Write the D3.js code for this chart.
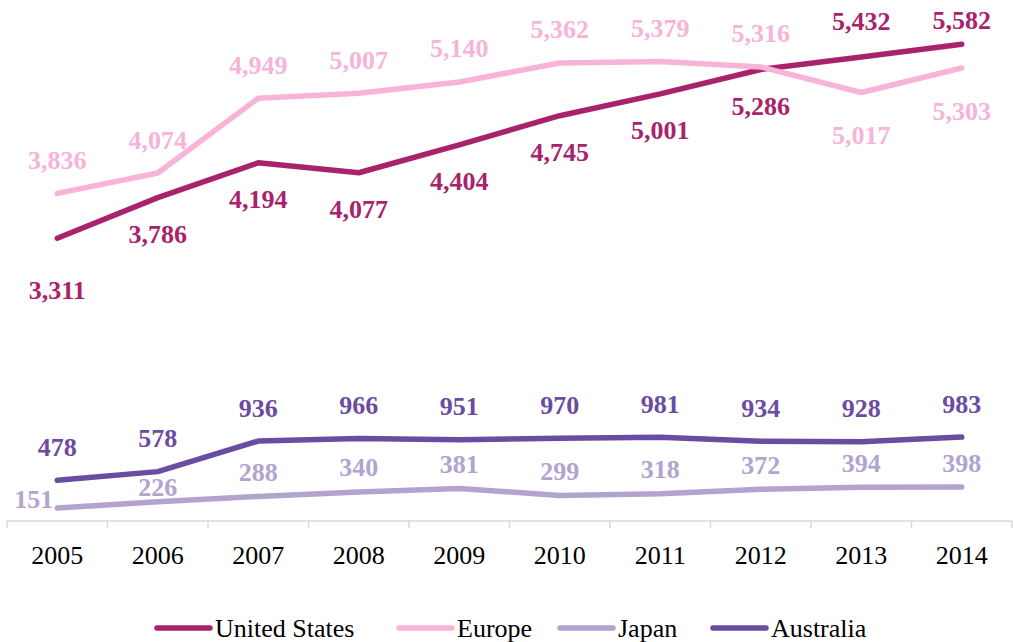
<!DOCTYPE html>
<html>
<head>
<meta charset="utf-8">
<script src="https://cdn.jsdelivr.net/npm/d3@7"></script>
<style>
  body { margin: 0; background: #fff; }
  text { font-family: "Liberation Serif", "Times New Roman", Times, "DejaVu Serif", serif; }
</style>
</head>
<body>
<div id="chart"></div>
<script>
const years        = ["2005", "2006", "2007", "2008", "2009", "2010", "2011", "2012", "2013", "2014"];
const unitedStates = [3311, 3786, 4194, 4077, 4404, 4745, 5001, 5286, 5432, 5582];
const europe       = [3836, 4074, 4949, 5007, 5140, 5362, 5379, 5316, 5017, 5303];
const japan        = [151, 226, 288, 340, 381, 299, 318, 372, 394, 398];
const australia    = [478, 578, 936, 966, 951, 970, 981, 934, 928, 983];

// where each data label sits relative to its point
const usLabelSide = ["far", "below", "below", "below", "below", "below", "below", "below", "above", "above"];
const euLabelSide = ["above", "above", "above", "above", "above", "above", "above", "above", "below", "below"];
const jpLabelSide = ["left", "near", "above", "above", "above", "above", "above", "above", "above", "above"];
const auLabelSide = ["above", "above", "above", "above", "above", "above", "above", "above", "above", "above"];

const series = [
  { name: "United States", values: unitedStates, sides: usLabelSide, color: "#A8236C", up: 36, down: 37 },
  { name: "Europe",        values: europe,       sides: euLabelSide, color: "#F8B3D8", up: 33, down: 43 },
  { name: "Japan",         values: japan,        sides: jpLabelSide, color: "#B3A3CF", up: 24, down: 30 },
  { name: "Australia",     values: australia,    sides: auLabelSide, color: "#6A4CA0", up: 33, down: 30 }
];

const width  = 1013;
const height = 642;

const svg = d3.select("#chart").append("svg")
  .attr("width", width)
  .attr("height", height);

const x = d3.scaleBand()
  .domain(years)
  .range([7, 1012]);

const y = d3.scaleLinear()
  .domain([0, 6000])
  .range([521, 8.5]);

const cx = d => x(d) + x.bandwidth() / 2;
const serif = "'Liberation Serif', 'Times New Roman', Times, serif";

// x axis
const axis = svg.append("g");
axis.append("line")
  .attr("x1", x.range()[0]).attr("x2", x.range()[1])
  .attr("y1", y(0)).attr("y2", y(0))
  .attr("stroke", "#d9d9d9").attr("stroke-width", 1.5);
axis.selectAll("line.tick")
  .data(years.concat(["end"]))
  .enter().append("line")
  .attr("class", "tick")
  .attr("x1", (d, i) => x.range()[0] + i * x.step())
  .attr("x2", (d, i) => x.range()[0] + i * x.step())
  .attr("y1", y(0)).attr("y2", y(0) + 7)
  .attr("stroke", "#d9d9d9").attr("stroke-width", 1.5);
axis.selectAll("text")
  .data(years)
  .enter().append("text")
  .attr("x", d => cx(d))
  .attr("y", 555)
  .attr("text-anchor", "middle")
  .attr("dominant-baseline", "central")
  .attr("font-family", serif)
  .attr("font-size", 26)
  .attr("fill", "#000")
  .text(d => d);

const line = d3.line()
  .x((d, i) => cx(years[i]))
  .y(d => y(d));

const fmt = d3.format(",");

series.forEach(s => {
  svg.append("path")
    .datum(s.values)
    .attr("d", line)
    .attr("fill", "none")
    .attr("stroke", s.color)
    .attr("stroke-width", 5.5)
    .attr("stroke-linecap", "round")
    .attr("stroke-linejoin", "round");
});

series.forEach(s => {
  svg.append("g").selectAll("text")
    .data(s.values)
    .enter().append("text")
    .attr("x", (d, i) => s.sides[i] === "left" ? cx(years[i]) - 4 : cx(years[i]))
    .attr("y", (d, i) => {
      const side = s.sides[i];
      if (side === "above") return Math.max(20, y(d) - s.up);
      if (side === "below") return y(d) + s.down;
      if (side === "far") return y(d) + s.down + 15;
      if (side === "near") return y(d) - s.up + 10;
      return y(d) - 9;
    })
    .attr("text-anchor", (d, i) => s.sides[i] === "left" ? "end" : "middle")
    .attr("dominant-baseline", "central")
    .attr("font-family", serif)
    .attr("font-size", 26)
    .attr("font-weight", "bold")
    .attr("fill", s.color)
    .text(d => fmt(d));
});

// legend
const legendX = [157, 399, 560, 713];
const legend = svg.append("g").selectAll("g")
  .data(series)
  .enter().append("g")
  .attr("transform", (d, i) => "translate(" + legendX[i] + ",628)");
legend.append("line")
  .attr("x1", 0).attr("x2", 53)
  .attr("y1", 0).attr("y2", 0)
  .attr("stroke", d => d.color)
  .attr("stroke-width", 5.5)
  .attr("stroke-linecap", "round");
legend.append("text")
  .attr("x", 58)
  .attr("y", 0)
  .attr("dominant-baseline", "central")
  .attr("font-family", serif)
  .attr("font-size", 26)
  .attr("fill", "#000")
  .text(d => d.name);
</script>
</body>
</html>
